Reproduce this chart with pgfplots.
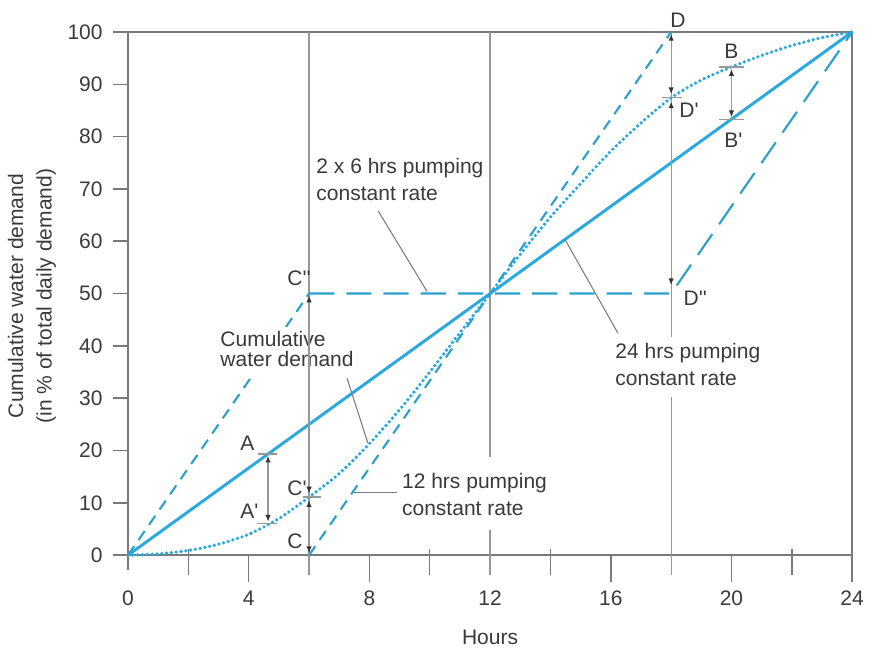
\documentclass[border=0pt]{standalone}
\usepackage{fontspec}
\setmainfont{Liberation Sans}
\usepackage{pgfplots}
\pgfplotsset{compat=1.18}
\usetikzlibrary{arrows.meta}

\definecolor{flow}{HTML}{29A9E0}
\definecolor{flowdash}{HTML}{2AA0CC}
\definecolor{framegray}{HTML}{7A7A7A}
\definecolor{guide}{HTML}{989898}
\definecolor{txt}{HTML}{3A3A3A}
\definecolor{tipcol}{HTML}{333333}

\tikzset{
  tip/.tip={Latex[length=3.2pt,width=2.6pt,color=tipcol]},
  annot/.style={guide, line width=0.6pt},
  lbl/.style={text=txt, inner sep=0pt, anchor=base west},
}

\begin{document}
\begin{tikzpicture}[font=\fontsize{10}{12}\selectfont]
\begin{axis}[
  scale only axis, width=344.6pt, height=249pt,
  xmin=0, xmax=24, ymin=0, ymax=100,
  clip=false,
  axis line style={framegray, line width=0.8pt},
  xtick={0,4,...,24}, ytick={0,10,...,100},
  major tick length=0pt, tick align=inside,
  /pgf/number format/assume math mode=true,
  xticklabel style={anchor=center, inner sep=0pt, yshift=-20.5pt, text=txt},
  yticklabel style={anchor=east, inner sep=0pt, xshift=-11.9pt, text=txt},
  xlabel={Hours},
  xlabel style={at={(axis description cs:0.5,-0.1568)}, anchor=center, text=txt},
  ylabel={Cumulative water demand\\[1.5pt](in \% of total daily demand)},
  ylabel style={at={(axis description cs:-0.1326,0.4952)}, anchor=center, align=center, text=txt},
]

% tick marks: long ones under the labelled hours, short crossing ones between
\pgfplotsinvokeforeach{4,8,16,20,24}{\draw[framegray, line width=0.7pt] (axis cs:#1,0) -- (axis cs:#1,-5.2);}
\draw[framegray, line width=0.7pt] (axis cs:0,0) -- (axis cs:0,-2.9);
\pgfplotsinvokeforeach{2,10,14,22}{\draw[framegray, line width=0.7pt] (axis cs:#1,1.15) -- (axis cs:#1,-3.8);}
\pgfplotsinvokeforeach{0,10,...,100}{\draw[framegray, line width=0.7pt] (axis cs:-0.5,#1) -- (axis cs:0,#1);}

% vertical reference lines at 6, 12 and 18 h
\pgfplotsinvokeforeach{6,12,18}{\draw[guide, line width=0.6pt] (axis cs:#1,100) -- (axis cs:#1,-3.8);}

% 24 hrs pumping at constant rate
\addplot[flow, line width=1.4pt] coordinates {(0,0) (24,100)};

% 12 hrs pumping at constant rate
\addplot[flowdash, line width=1pt, dash pattern=on 5.2pt off 3.6pt] coordinates {(6,0) (18,100)};

% 2 x 6 hrs pumping at constant rate
\addplot[flowdash, line width=1pt, dash pattern=on 5.2pt off 3.6pt] coordinates {(0,0) (6,50)};
\addplot[flowdash, line width=1pt, dash pattern=on 12pt off 5.7pt] coordinates {(6,50) (18,50) (24,100)};

% cumulative water demand
\addplot[flow, line width=1.75pt, dash pattern=on 0pt off 2.3pt, line cap=round, smooth] coordinates {
  (0,0) (1,0.25) (2,0.9) (3,2.1) (4,4.0) (5,7.0) (6,11.1) (7,15.6) (8,21.3)
  (9,27.8) (10,35.0) (11,42.5) (12,50) (13,57.5) (14,64.6) (15,71.0)
  (16,77.2) (17,82.6) (18,87.4) (19,90.8) (20,93.3) (21,95.5) (22,97.4)
  (23,98.9) (24,100)};

% white backgrounds behind the explanatory labels
\fill[white] (axis cs:3.0,33.8) rectangle (axis cs:7.6,43.6);
\fill[white] (axis cs:9.0,4.8) rectangle (axis cs:14.0,18.7);
\fill[white] (axis cs:16.0,30.2) rectangle (axis cs:21.2,41.7);

% explanatory labels and their leader lines
\node[lbl] at (axis cs:6.23,73.0) {2 x 6 hrs pumping};
\node[lbl] at (axis cs:6.23,67.7) {constant rate};
\draw[framegray, line width=0.5pt] (axis cs:8.29,65.8) -- (axis cs:9.91,50.4);

\node[lbl] at (axis cs:3.05,39.8) {Cumulative};
\node[lbl] at (axis cs:3.05,36.0) {water demand};
\draw[framegray, line width=0.5pt] (axis cs:7.26,33.8) -- (axis cs:7.95,21.4);

\node[lbl] at (axis cs:9.07,12.75) {12 hrs pumping};
\node[lbl] at (axis cs:9.07,7.65) {constant rate};
\draw[framegray, line width=0.5pt] (axis cs:7.45,12.05) -- (axis cs:8.92,12.05);

\node[lbl] at (axis cs:16.14,37.6) {24 hrs pumping};
\node[lbl] at (axis cs:16.14,32.5) {constant rate};
\draw[framegray, line width=0.5pt] (axis cs:14.48,60.35) -- (axis cs:16.24,42.4);

% short marks at the measured points
\draw[annot] (axis cs:4.30,19.33) -- (axis cs:4.95,19.33);
\draw[annot] (axis cs:4.28,6.1) -- (axis cs:4.95,6.1);
\draw[annot] (axis cs:19.6,93.3) -- (axis cs:20.4,93.3);
\draw[annot] (axis cs:19.6,83.33) -- (axis cs:20.4,83.33);
\draw[annot] (axis cs:5.8,11.1) -- (axis cs:6.4,11.1);
\draw[annot] (axis cs:17.7,87.4) -- (axis cs:18.35,87.4);

% double arrows between the curves
\draw[annot, {tip}-{tip}] (axis cs:4.64,6.4) -- (axis cs:4.64,19.0);
\draw[annot, {tip}-{tip}] (axis cs:20,83.7) -- (axis cs:20,92.9);
\draw[annot, {tip}-{tip}] (axis cs:6,0.4) -- (axis cs:6,10.5);
\draw[annot, {tip}-{tip}] (axis cs:6,11.8) -- (axis cs:6,49.6);
\draw[annot, {tip}-{tip}] (axis cs:18,51.6) -- (axis cs:18,86.7);
\draw[annot, {tip}-{tip}] (axis cs:18,88.1) -- (axis cs:18,99.6);

% point letters
\node[lbl] at (axis cs:3.71,20.1) {A};
\node[lbl] at (axis cs:3.71,7.07) {A\textquotesingle};
\node[lbl] at (axis cs:19.75,94.9) {B};
\node[lbl] at (axis cs:19.75,78.0) {B\textquotesingle};
\node[lbl] at (axis cs:5.27,1.34) {C};
\node[lbl] at (axis cs:5.27,11.5) {C\textquotesingle};
\node[lbl] at (axis cs:5.27,51.6) {C\textquotesingle\textquotesingle};
\node[lbl] at (axis cs:17.96,100.8) {D};
\node[lbl] at (axis cs:18.26,83.55) {D\textquotesingle};
\node[lbl] at (axis cs:18.4,47.8) {D\textquotesingle\textquotesingle};

\coordinate (bbsw) at (axis cs:-4.243,-17.78);
\coordinate (bbne) at (axis cs:24.79,106.1);
\end{axis}
\pgfresetboundingbox
\path[use as bounding box] (bbsw) rectangle (bbne);
\end{tikzpicture}
\end{document}
